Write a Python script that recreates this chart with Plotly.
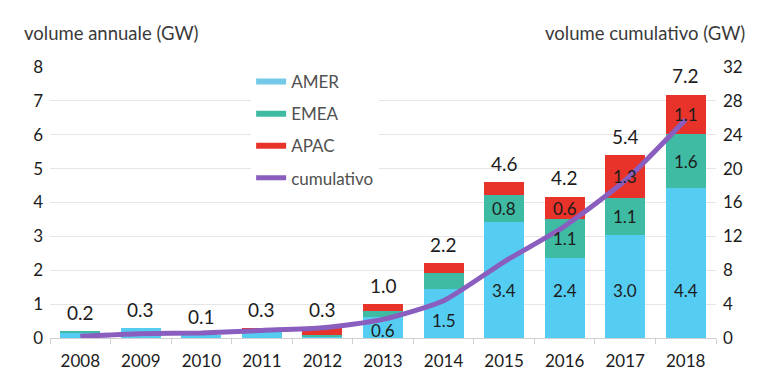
import plotly.graph_objects as go

years = ["2008", "2009", "2010", "2011", "2012", "2013", "2014", "2015", "2016", "2017", "2018"]
amer = [0.15, 0.30, 0.08, 0.26, 0.03, 0.62, 1.45, 3.42, 2.37, 3.05, 4.42]
emea = [0.03, 0.0, 0.0, 0.0, 0.05, 0.18, 0.47, 0.80, 1.13, 1.08, 1.60]
apac = [0.0, 0.0, 0.0, 0.04, 0.22, 0.20, 0.29, 0.38, 0.66, 1.27, 1.15]
totals = [0.2, 0.3, 0.1, 0.3, 0.3, 1.0, 2.2, 4.6, 4.2, 5.4, 7.2]
total_labels = ["0.2", "0.3", "0.1", "0.3", "0.3", "1.0", "2.2", "4.6", "4.2", "5.4", "7.2"]
amer_labels = ["", "", "", "", "", "0.6", "1.5", "3.4", "2.4", "3.0", "4.4"]
emea_labels = ["", "", "", "", "", "", "", "0.8", "1.1", "1.1", "1.6"]
apac_labels = ["", "", "", "", "", "", "", "", "0.6", "1.3", "1.1"]
cumulative = [0.2, 0.5, 0.6, 0.9, 1.2, 2.2, 4.4, 9.0, 13.2, 18.6, 25.8]
left_ticks = [0, 1, 2, 3, 4, 5, 6, 7, 8]
right_ticks = [0, 4, 8, 12, 16, 20, 24, 28, 32]

C_AMER = "#55CDF3"
C_EMEA = "#3FBAA3"
C_APAC = "#E8332A"
C_CUM = "#8A5EBE"
NUM_FONT = "Lato"
TXT_FONT = "Lato"
TXT = "#1c1c1c"

fig = go.Figure()
for name, vals, col in [("AMER", amer, C_AMER), ("EMEA", emea, C_EMEA), ("APAC", apac, C_APAC)]:
    fig.add_trace(go.Bar(
        x=years, y=vals, name=name, marker=dict(color=col, line=dict(width=0)),
        showlegend=False, legendgroup=name, hoverinfo="skip"))

# legend entries
for name, col in [("AMER", "#74C9E8"), ("EMEA", C_EMEA), ("APAC", C_APAC)]:
    fig.add_trace(go.Scatter(x=[years[0]], y=[None], mode="lines", name=name,
                             line=dict(color=col, width=6), legendgroup=name))

fig.add_trace(go.Scatter(
    x=years, y=cumulative, name="cumulativo", mode="lines", yaxis="y2",
    line=dict(color=C_CUM, width=5, shape="spline", smoothing=0.6),
    legendgroup="cum", hoverinfo="skip"))

annotations = []
lab_font = dict(family=NUM_FONT, size=17, color=TXT)
for i, (t, lab) in enumerate(zip(totals, total_labels)):
    annotations.append(dict(x=i, y=t, text=lab, showarrow=False, yanchor="bottom",
                            yshift=5, font=dict(family=NUM_FONT, size=19, color=TXT)))
for i in range(len(years)):
    if amer_labels[i]:
        v = amer[i]
        ypos = v * 0.35 if v < 2 else 1.4
        annotations.append(dict(x=i, y=ypos, text=amer_labels[i], showarrow=False, font=lab_font))
    if emea_labels[i]:
        annotations.append(dict(x=i, y=amer[i] + emea[i] / 2, text=emea_labels[i],
                                showarrow=False, font=lab_font))
    if apac_labels[i]:
        annotations.append(dict(x=i, y=amer[i] + emea[i] + apac[i] / 2, text=apac_labels[i],
                                showarrow=False, font=lab_font))
annotations.append(dict(xref="paper", yref="paper", x=-0.042, y=1.0, yshift=34,
                        xanchor="left", yanchor="middle", showarrow=False,
                        text="volume annuale (GW)",
                        font=dict(family=TXT_FONT, size=18.5, color="#3a3a3a")))
annotations.append(dict(xref="paper", yref="paper", x=1.047, y=1.0, yshift=34,
                        xanchor="right", yanchor="middle", showarrow=False,
                        text="volume cumulativo (GW)",
                        font=dict(family=TXT_FONT, size=18.5, color="#3a3a3a")))

fig.update_layout(
    width=760, height=385,
    margin=dict(l=42, r=52, t=59, b=55),
    barmode="stack", bargap=0.34,
    plot_bgcolor="white", paper_bgcolor="white",
    annotations=annotations,
    xaxis=dict(type="category", range=[-0.5, 10.5], autorange=False,
               tickson="boundaries", ticks="outside", ticklen=5, tickangle=0,
               ticklabelstandoff=8,
               tickcolor="#cfcfcf", showline=True, linecolor="#cfcfcf", linewidth=1,
               showgrid=False, tickfont=dict(family=NUM_FONT, size=17, color=TXT)),
    yaxis=dict(range=[0, 8], tickvals=left_ticks, showgrid=True, gridcolor="#e6e6e6",
               gridwidth=1, zeroline=False, ticks="", ticklabelstandoff=6,
               tickfont=dict(family=NUM_FONT, size=17, color=TXT)),
    yaxis2=dict(range=[0, 32], tickvals=right_ticks, overlaying="y", side="right",
                showgrid=False, zeroline=False, ticks="", ticklabelstandoff=6,
                tickfont=dict(family=NUM_FONT, size=17, color=TXT)),
    legend=dict(x=0.302, y=1.011, xanchor="left", yanchor="top", bgcolor="white",
                font=dict(family=TXT_FONT, size=17, color="#505050"),
                tracegroupgap=7, traceorder="grouped"),
)

fig.write_html("out.html")
